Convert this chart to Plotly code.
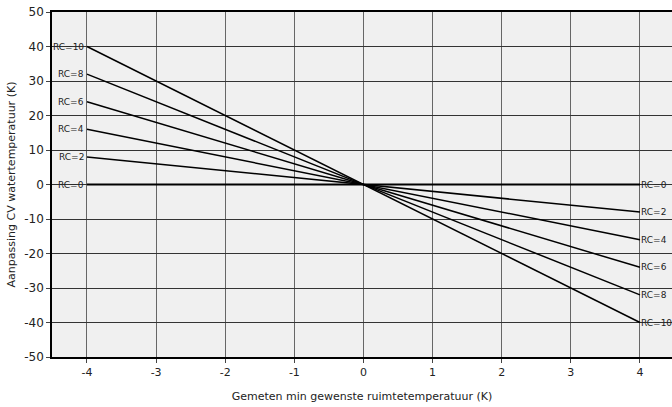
import plotly.graph_objects as go

rc_values = [0, 2, 4, 6, 8, 10]
x_ends = [-4, 4]
y_left = [0, 8, 16, 24, 32, 40]
y_right = [0, -8, -16, -24, -32, -40]
x_ticks = [-4, -3, -2, -1, 0, 1, 2, 3, 4]
y_ticks = [-50, -40, -30, -20, -10, 0, 10, 20, 30, 40, 50]

FONT = "DejaVu Sans"
fig = go.Figure()
for rc, yl, yr in zip(rc_values, y_left, y_right):
    fig.add_trace(go.Scatter(
        x=x_ends, y=[yl, yr], mode="lines",
        line=dict(color="black", width=2 if rc == 0 else 1.5),
        showlegend=False, hoverinfo="skip"))
    fig.add_annotation(x=x_ends[0], y=yl, text=f"RC={rc}", showarrow=False,
                       xanchor="right", yanchor="middle", xshift=-1,
                       font=dict(family=FONT, size=9, color="#222"))
    fig.add_annotation(x=x_ends[1], y=yr, text=f"RC={rc}", showarrow=False,
                       xanchor="left", yanchor="middle", xshift=-1,
                       font=dict(family=FONT, size=9, color="#222"))

fig.update_layout(
    width=672, height=407,
    margin=dict(l=52, r=0, t=12, b=50, autoexpand=False),
    paper_bgcolor="white", plot_bgcolor="#f0f0f0",
    font=dict(family=FONT, size=11, color="#222"),
)
fig.update_xaxes(
    range=[-4.506, 4.463], tickvals=x_ticks, ticktext=[str(v) for v in x_ticks],
    showgrid=True, gridcolor="#666", gridwidth=1,
    showline=True, linecolor="black", linewidth=1.5, mirror=True,
    ticks="outside", ticklen=4, tickcolor="#444", zeroline=False,
    tickfont=dict(size=11),
    title=dict(text="Gemeten min gewenste ruimtetemperatuur (K)", font=dict(size=11), standoff=14),
)
fig.update_yaxes(
    range=[-50, 50], tickvals=y_ticks, ticktext=[str(v) for v in y_ticks],
    showgrid=True, gridcolor="#333", gridwidth=1,
    showline=True, linecolor="black", linewidth=1.5,
    ticks="outside", ticklen=4, tickcolor="#444", zeroline=False,
    tickfont=dict(size=12),
    title=dict(text="Aanpassing CV watertemperatuur (K)", font=dict(size=11), standoff=6),
)
fig.write_html("out.html", config={"displayModeBar": False},
               post_script="document.body.style.margin='0';document.body.style.overflow='hidden';")
